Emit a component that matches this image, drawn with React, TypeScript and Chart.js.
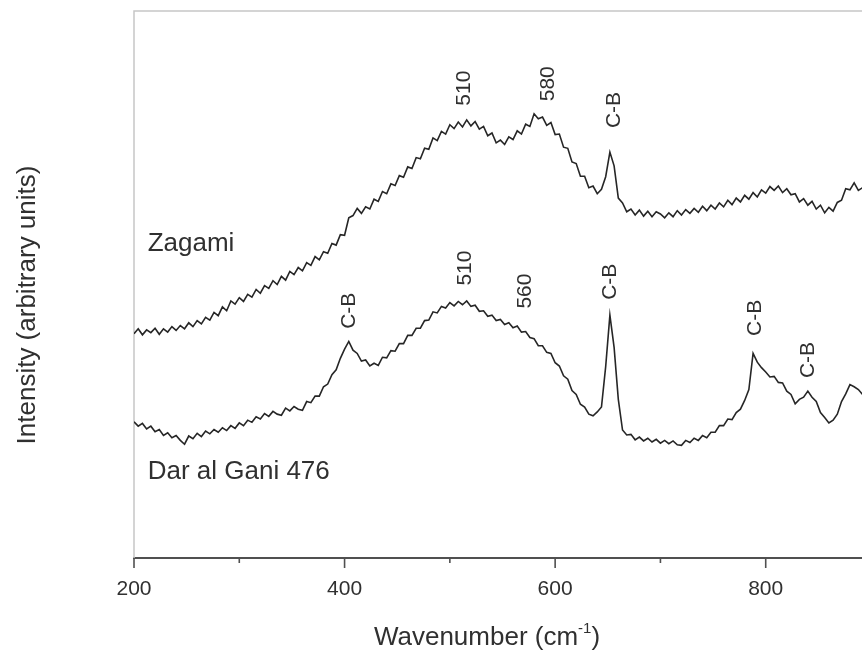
import { useEffect, useRef } from "react";
import { Chart, registerables } from "chart.js";

Chart.register(...registerables);

// Raman shift sampling grid (cm-1)
const wavenumbers = [
  200, 204, 208, 212, 216, 220, 224, 228, 232, 236,
  240, 244, 248, 252, 256, 260, 264, 268, 272, 276,
  280, 284, 288, 292, 296, 300, 304, 308, 312, 316,
  320, 324, 328, 332, 336, 340, 344, 348, 352, 356,
  360, 364, 368, 372, 376, 380, 384, 388, 392, 396,
  400, 404, 408, 412, 416, 420, 424, 428, 432, 436,
  440, 444, 448, 452, 456, 460, 464, 468, 472, 476,
  480, 484, 488, 492, 496, 500, 504, 508, 512, 516,
  520, 524, 528, 532, 536, 540, 544, 548, 552, 556,
  560, 564, 568, 572, 576, 580, 584, 588, 592, 596,
  600, 604, 608, 612, 616, 620, 624, 628, 632, 636,
  640, 644, 648, 652, 656, 660, 664, 668, 672, 676,
  680, 684, 688, 692, 696, 700, 704, 708, 712, 716,
  720, 724, 728, 732, 736, 740, 744, 748, 752, 756,
  760, 764, 768, 772, 776, 780, 784, 788, 792, 796,
  800, 804, 808, 812, 816, 820, 824, 828, 832, 836,
  840, 844, 848, 852, 856, 860, 864, 868, 872, 876,
  880, 884, 888, 892, 896, 900,
];

// Zagami spectrum (offset, arbitrary units)
const zagamiIntensity = [
  41.0, 41.9, 40.8, 41.7, 41.2, 42.0, 40.9, 41.9, 41.3, 42.3,
  41.6, 42.5, 41.9, 43.0, 42.3, 43.4, 42.8, 44.0, 43.5, 44.9,
  44.3, 45.9, 45.2, 47.0, 46.4, 47.6, 46.9, 48.2, 47.7, 49.1,
  48.4, 49.8, 49.3, 50.7, 50.0, 51.5, 50.8, 52.4, 51.8, 53.1,
  52.5, 54.0, 53.5, 55.1, 54.5, 56.0, 55.7, 57.5, 57.2, 59.1,
  59.0, 62.2, 62.6, 63.9, 63.0, 64.2, 63.8, 65.6, 65.2, 67.0,
  66.6, 68.4, 68.1, 69.9, 69.6, 71.5, 71.2, 73.2, 73.0, 74.9,
  74.7, 76.8, 76.3, 78.0, 77.5, 79.2, 78.5, 79.7, 78.8, 80.1,
  79.0, 79.8, 78.4, 78.9, 77.2, 77.7, 75.9, 76.4, 75.6, 77.0,
  76.5, 78.1, 77.5, 79.3, 78.9, 81.2, 80.3, 80.6, 79.1, 79.6,
  77.4, 77.5, 75.1, 74.9, 72.4, 72.1, 69.8, 69.8, 67.7, 68.0,
  66.6, 67.4, 69.7, 74.2, 71.7, 65.8, 64.9, 63.3, 63.8, 62.7,
  63.6, 62.5, 63.4, 62.4, 63.3, 62.9, 62.2, 63.1, 62.4, 63.5,
  62.7, 63.7, 63.0, 63.9, 63.2, 64.3, 63.5, 64.5, 63.8, 64.9,
  64.2, 65.4, 64.6, 65.8, 65.1, 66.3, 65.6, 66.8, 66.0, 67.3,
  66.7, 67.9, 67.2, 68.0, 66.8, 67.5, 66.4, 66.6, 65.1, 65.7,
  64.5, 65.2, 63.8, 64.5, 63.1, 64.1, 63.4, 65.0, 65.4, 67.5,
  67.3, 68.6, 67.2, 67.7, 67.0, 67.8,
];

// Dar al Gani 476 spectrum (arbitrary units)
const darAlGaniIntensity = [
  24.9, 24.1, 24.6, 23.6, 24.1, 23.1, 23.5, 22.4, 22.9, 22.0,
  22.4, 21.5, 20.8, 22.3, 21.8, 22.8, 22.2, 23.2, 22.7, 23.5,
  23.0, 23.8, 23.3, 24.2, 23.7, 24.7, 24.2, 25.2, 24.8, 25.8,
  25.4, 26.4, 25.9, 26.8, 26.3, 26.1, 27.4, 26.9, 27.7, 27.2,
  27.0, 28.6, 28.4, 29.6, 29.6, 31.3, 31.8, 33.5, 34.4, 36.5,
  38.2, 39.6, 38.0, 37.4, 36.0, 36.2, 35.1, 35.6, 35.2, 36.7,
  36.6, 37.9, 37.8, 39.2, 39.2, 40.7, 40.7, 42.0, 42.0, 43.4,
  43.5, 45.0, 44.8, 46.0, 45.7, 46.7, 46.1, 46.9, 46.3, 47.0,
  46.0, 46.2, 45.1, 45.2, 44.2, 44.4, 43.4, 43.6, 42.7, 43.0,
  42.1, 42.4, 41.3, 41.4, 40.3, 40.1, 38.8, 38.8, 37.6, 37.4,
  35.7, 35.1, 33.3, 32.7, 30.6, 29.9, 28.1, 27.6, 26.3, 26.0,
  26.7, 27.6, 35.0, 44.4, 38.5, 29.0, 23.4, 22.5, 22.6, 21.6,
  22.1, 21.4, 21.9, 21.2, 21.7, 21.0, 21.5, 20.9, 21.4, 20.7,
  20.6, 21.5, 21.1, 21.9, 21.5, 22.4, 22.0, 23.0, 23.0, 24.2,
  24.2, 25.4, 25.3, 26.6, 27.2, 28.8, 30.8, 37.4, 35.8, 34.8,
  34.0, 33.1, 33.2, 32.1, 32.0, 30.5, 29.9, 28.2, 29.0, 29.4,
  30.5, 29.4, 28.6, 26.6, 25.7, 24.7, 25.2, 26.3, 28.6, 30.0,
  31.7, 31.3, 30.8, 29.9, 30.9, 30.6,
];

const tickLabels = ["200", "400", "600", "800"];

// Band annotations (vertical text), anchored at their centre
const peakLabels = ["510", "580", "C-B", "510", "C-B", "560", "C-B", "C-B", "C-B"];
const peakLabelWavenumbers = [514, 593, 656, 515, 404, 572, 652, 790, 840];
const peakLabelIntensities = [85.9, 86.7, 81.9, 53.0, 45.2, 48.8, 50.5, 43.9, 36.2];

const seriesNames = ["Zagami", "Dar al Gani 476"];
const seriesNameWavenumbers = [213, 213];
const seriesNameIntensities = [57.4, 15.7];

const FONT = '"Liberation Sans", Arial, Helvetica, sans-serif';
const TEXT = "#303030";
const LINE = "#262626";
const TICK_PAD = 19;

const decorPlugin = {
  id: "spectrumDecor",
  beforeDatasetsDraw(chart: any) {
    const { ctx, chartArea } = chart;
    ctx.save();
    ctx.strokeStyle = "#c6c6c6";
    ctx.lineWidth = 1.5;
    ctx.beginPath();
    ctx.moveTo(chartArea.left, chartArea.bottom);
    ctx.lineTo(chartArea.left, chartArea.top);
    ctx.lineTo(chartArea.right, chartArea.top);
    ctx.stroke();
    ctx.restore();
  },
  afterDraw(chart: any) {
    const { ctx, chartArea, scales } = chart;
    const xs = scales.x;
    const ys = scales.y;
    ctx.save();

    // outward tick marks: long at labelled values, short in between
    ctx.strokeStyle = "#505050";
    ctx.lineWidth = 1.6;
    xs.ticks.forEach((t: any) => {
      const px = xs.getPixelForValue(t.value);
      const major = tickLabels.includes(String(t.value));
      ctx.beginPath();
      ctx.moveTo(px, chartArea.bottom);
      ctx.lineTo(px, chartArea.bottom + (major ? 10 : 5));
      ctx.stroke();
    });

    // band labels
    ctx.fillStyle = TEXT;
    ctx.font = `21px ${FONT}`;
    ctx.textAlign = "center";
    ctx.textBaseline = "middle";
    peakLabels.forEach((txt, i) => {
      const px = xs.getPixelForValue(peakLabelWavenumbers[i]);
      const py = ys.getPixelForValue(peakLabelIntensities[i]);
      ctx.save();
      ctx.translate(px, py);
      ctx.rotate(-Math.PI / 2);
      ctx.fillText(txt, 0, 0);
      ctx.restore();
    });

    // sample names
    ctx.font = `26px ${FONT}`;
    ctx.textAlign = "left";
    seriesNames.forEach((txt, i) => {
      const px = xs.getPixelForValue(seriesNameWavenumbers[i]);
      const py = ys.getPixelForValue(seriesNameIntensities[i]);
      ctx.fillText(txt, px, py);
    });

    // y axis title
    ctx.save();
    ctx.translate(28, 305);
    ctx.rotate(-Math.PI / 2);
    ctx.textAlign = "center";
    ctx.font = `26px ${FONT}`;
    ctx.fillText("Intensity (arbitrary units)", 0, 0);
    ctx.restore();

    // x axis title with superscript
    const main = "Wavenumber (cm";
    const sup = "-1";
    const close = ")";
    ctx.font = `26px ${FONT}`;
    const wMain = ctx.measureText(main).width;
    const wClose = ctx.measureText(close).width;
    ctx.font = `15px ${FONT}`;
    const wSup = ctx.measureText(sup).width;
    const total = wMain + wSup + wClose;
    let x0 = 487 - total / 2;
    const baseY = 645;
    ctx.textAlign = "left";
    ctx.textBaseline = "alphabetic";
    ctx.font = `26px ${FONT}`;
    ctx.fillText(main, x0, baseY);
    x0 += wMain;
    ctx.font = `15px ${FONT}`;
    ctx.fillText(sup, x0, baseY - 12);
    x0 += wSup;
    ctx.font = `26px ${FONT}`;
    ctx.fillText(close, x0, baseY);

    ctx.restore();
  },
};

export default function App() {
  const canvasRef = useRef<HTMLCanvasElement>(null);

  useEffect(() => {
    const canvas = canvasRef.current;
    if (!canvas) return;
    const chart = new Chart(canvas, {
      type: "line",
      data: {
        datasets: [
          {
            label: seriesNames[0],
            data: wavenumbers.map((w, i) => ({ x: w, y: zagamiIntensity[i] })),
            borderColor: LINE,
            borderWidth: 1.6,
            pointRadius: 0,
            fill: false,
            tension: 0,
          },
          {
            label: seriesNames[1],
            data: wavenumbers.map((w, i) => ({ x: w, y: darAlGaniIntensity[i] })),
            borderColor: LINE,
            borderWidth: 1.6,
            pointRadius: 0,
            fill: false,
            tension: 0,
          },
        ],
      },
      options: {
        responsive: false,
        animation: false,
        devicePixelRatio: 1,
        layout: { padding: { left: 134, top: 11, right: 0, bottom: 0 } },
        plugins: {
          legend: { display: false },
          tooltip: { enabled: false },
          title: { display: false },
        },
        scales: {
          x: {
            type: "linear",
            position: "bottom",
            min: 200,
            max: 900,
            afterFit: (scale: any) => {
              scale.height = 99;
            },
            grid: { display: false, drawTicks: false },
            border: { display: true, color: "#505050", width: 2 },
            ticks: {
              stepSize: 100,
              padding: TICK_PAD,
              autoSkip: false,
              maxRotation: 0,
              color: TEXT,
              font: { family: FONT, size: 21 },
              callback: (v: any) => (tickLabels.includes(String(v)) ? String(v) : ""),
            },
          },
          y: { display: false, min: 0, max: 100 },
        },
      } as any,
      plugins: [decorPlugin],
    });
    return () => chart.destroy();
  }, []);

  return (
    <div
      style={{
        position: "fixed",
        left: 0,
        top: 0,
        width: 862,
        height: 657,
        overflow: "hidden",
        background: "#ffffff",
      }}
    >
      <canvas ref={canvasRef} width={871 + TICK_PAD} height={657} style={{ display: "block" }} />
    </div>
  );
}
